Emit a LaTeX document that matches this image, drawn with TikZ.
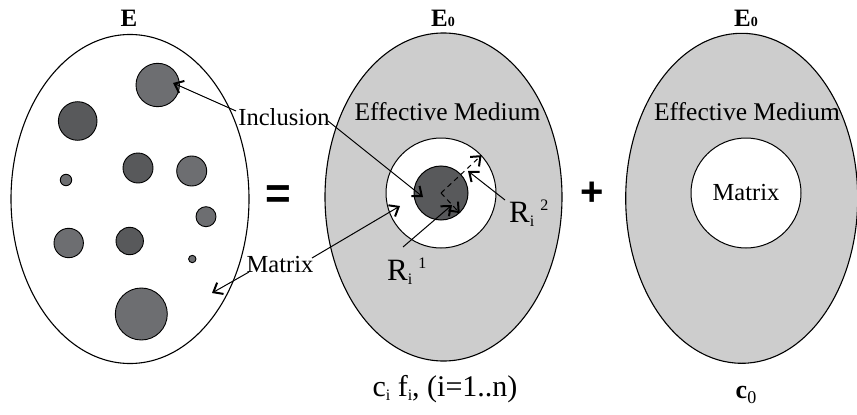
\documentclass[tikz,border=0pt]{standalone}
\usepackage{fontspec}
\setmainfont{Liberation Serif}
\newfontfamily\symfont{Liberation Sans}
\usetikzlibrary{arrows.meta,shapes.geometric}
\definecolor{medium}{HTML}{CDCDCD}
\definecolor{incl}{HTML}{6D6E71}
\definecolor{incdark}{HTML}{58595B}
\begin{document}
\begin{tikzpicture}[x=1pt,y=-1pt,
  bigell/.style={ellipse, draw=black, line width=1.1pt, inner sep=0pt},
  light/.style={circle, draw=black, line width=0.9pt, fill=incl, inner sep=0pt},
  dark/.style={circle, draw=black, line width=0.9pt, fill=incdark, inner sep=0pt},
  lbl/.style={inner sep=0pt, font=\fontsize{24.5}{26}\selectfont},
  ttl/.style={inner sep=0pt, font=\fontsize{25}{26}\selectfont\bfseries},
  arr/.style={line width=1pt, -{Straight Barb[length=8pt,width=13pt,line width=2pt]}},
  darr/.style={arr, dash pattern=on 5pt off 4pt}]
\useasboundingbox (0,0) rectangle (857,415);

% ellipses
\node[bigell, fill=white, minimum width=238, minimum height=329] (eL) at (130,199) {};
\node[bigell, fill=medium, minimum width=237, minimum height=328] (eM) at (443.5,197) {};
\node[bigell, fill=medium, minimum width=232, minimum height=330] (eR) at (741.7,198.3) {};

% titles
\node[ttl, anchor=base] (tL) at (129,26) {E};
\node[ttl, anchor=base] (tM) at (443,26) {E{\fontsize{14}{15}\selectfont 0}};
\node[ttl, anchor=base] (tR) at (746,26) {E{\fontsize{14}{15}\selectfont 0}};

% inclusions in the heterogeneous medium
\node[light, minimum size=43.4] (i1) at (157.7,85) {};
\node[dark,  minimum size=38.6] (i2) at (77.7,121) {};
\node[dark,  minimum size=30]   (i3) at (138,168) {};
\node[light, minimum size=30]   (i4) at (191.7,171) {};
\node[light, minimum size=11.4] (i5) at (66,180) {};
\node[light, minimum size=20]   (i6) at (206,216.7) {};
\node[light, minimum size=29.4] (i7) at (68.7,243) {};
\node[dark,  minimum size=27.4] (i8) at (129.7,241) {};
\node[light, minimum size=7.4]  (i9) at (192.3,259) {};
\node[light, minimum size=52]   (i10) at (141.3,314) {};

% middle: coated inclusion
\node[circle, draw=black, line width=1pt, fill=white, inner sep=0pt, minimum size=110] (ring) at (441,193) {};
\node[dark, line width=1pt, minimum size=54] (core) at (441,193) {};

% right: matrix
\node[circle, draw=black, line width=1pt, fill=white, inner sep=0pt, minimum size=110] (mat) at (746,193) {};
\node[lbl] (matL) at (746,193) {Matrix};

% effective medium labels
\node[lbl, font=\fontsize{25.5}{27}\selectfont] (emM) at (447.5,112) {Effective Medium};
\node[lbl, font=\fontsize{25.5}{27}\selectfont] (emR) at (747,112) {Effective Medium};

% = and +
\node[inner sep=0pt, font=\symfont\bfseries\fontsize{44}{46}\selectfont] (eq) at (278.5,197) {=};
\node[inner sep=0pt, font=\symfont\bfseries\fontsize{40}{42}\selectfont] (plus) at (592,194) {+};

% labels
\node[lbl] (inc) at (284,117) {Inclusion};
\node[lbl] (mx) at (280,265) {Matrix};
\node[inner sep=0pt, anchor=base west, font=\fontsize{31}{33}\selectfont] (R1) at (387,280)
  {R\raisebox{-4pt}{\fontsize{16}{17}\selectfont i}\hspace{6pt}\raisebox{12pt}{\fontsize{16}{17}\selectfont 1}};
\node[inner sep=0pt, anchor=base west, font=\fontsize{31}{33}\selectfont] (R2) at (509,222)
  {R\raisebox{-4pt}{\fontsize{16}{17}\selectfont i}\hspace{6pt}\raisebox{12pt}{\fontsize{16}{17}\selectfont 2}};

% bottom labels
\node[inner sep=0pt, anchor=base, font=\fontsize{30}{32}\selectfont] (bM) at (445,396)
  {c\raisebox{-4pt}{\fontsize{16}{17}\selectfont i} f\raisebox{-4pt}{\fontsize{16}{17}\selectfont i}, (i=1..n)};
\node[inner sep=0pt, anchor=base, font=\fontsize{26}{28}\selectfont] (bR) at (746,398)
  {\textbf{c}\raisebox{-5pt}{\fontsize{18}{19}\selectfont 0}};

% arrow tips
\coordinate (t1) at (173,83);
\coordinate (t2) at (423,197);
\coordinate (t3) at (212,293);
\coordinate (t4) at (400,206);
\coordinate (t5) at (452,205);
\coordinate (t6) at (468,171);
\coordinate (s1) at (236,111);
\coordinate (s2) at (328,121);
\coordinate (s3) at (249,272);
\coordinate (s4) at (312,258);
\coordinate (s5) at (403,247);
\coordinate (s6) at (505,200);

\draw[arr] (s1) -- (t1);
\draw[arr] (s2) -- (t2);
\draw[arr] (s3) -- (t3);
\draw[arr] (s4) -- (t4);
\draw[arr] (s5) -- (t5);
\draw[arr] (s6) -- (t6);
\draw[darr] (core.center) -- (core.-47);
\draw[darr] (core.center) -- (ring.43);
\end{tikzpicture}
\end{document}
